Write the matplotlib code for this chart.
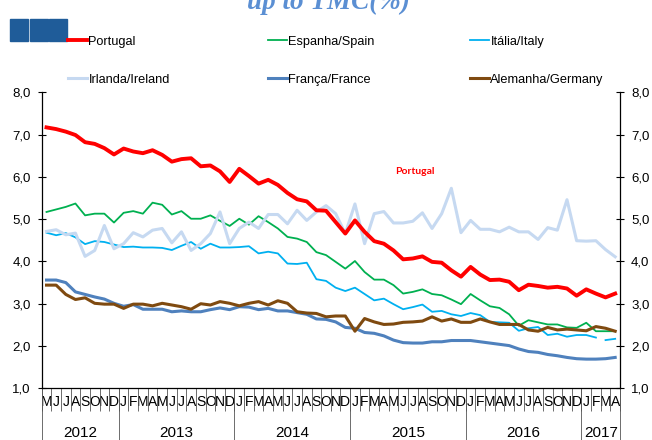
import numpy as np
import matplotlib
matplotlib.use('Agg')
import matplotlib.pyplot as plt
from matplotlib.patches import Rectangle
from matplotlib.lines import Line2D

plt.rcParams['font.family'] = ['Liberation Sans', 'DejaVu Sans']

# meses de Maio 2012 a Abril 2017
months = ['M', 'J', 'J', 'A', 'S', 'O', 'N', 'D'] + \
         ['J', 'F', 'M', 'A', 'M', 'J', 'J', 'A', 'S', 'O', 'N', 'D'] * 4 + \
         ['J', 'F', 'M', 'A']
years = ['2012', '2013', '2014', '2015', '2016', '2017']
year_len = [8, 12, 12, 12, 12, 4]

portugal = [7.17, 7.13, 7.07, 6.99, 6.82, 6.78, 6.68, 6.53, 6.67, 6.60, 6.56, 6.63, 6.52, 6.36, 6.42,
            6.44, 6.25, 6.27, 6.13, 5.88, 6.19, 6.02, 5.84, 5.93, 5.81, 5.62, 5.47, 5.42, 5.21, 5.20,
            4.93, 4.66, 4.97, 4.70, 4.48, 4.42, 4.26, 4.05, 4.07, 4.12, 3.99, 3.97, 3.79, 3.64, 3.87,
            3.69, 3.56, 3.57, 3.52, 3.32, 3.45, 3.42, 3.38, 3.40, 3.36, 3.19, 3.34, 3.24, 3.15, 3.24]
spain = [5.17, 5.23, 5.29, 5.37, 5.09, 5.13, 5.13, 4.92, 5.15, 5.19, 5.13, 5.39, 5.34, 5.11, 5.19,
         5.01, 5.01, 5.09, 4.96, 4.84, 5.01, 4.87, 5.07, 4.93, 4.78, 4.58, 4.54, 4.46, 4.22, 4.15,
         3.99, 3.83, 4.01, 3.75, 3.57, 3.57, 3.44, 3.24, 3.28, 3.34, 3.23, 3.20, 3.10, 2.99, 3.23,
         3.08, 2.94, 2.90, 2.75, 2.48, 2.61, 2.56, 2.51, 2.51, 2.44, 2.43, 2.55, 2.35, 2.35, 2.35]
italy = [4.68, 4.62, 4.67, 4.57, 4.41, 4.48, 4.46, 4.40, 4.34, 4.35, 4.33, 4.33, 4.32, 4.27, 4.37,
         4.46, 4.30, 4.42, 4.33, 4.33, 4.34, 4.36, 4.19, 4.23, 4.19, 3.95, 3.94, 3.97, 3.58, 3.54,
         3.38, 3.30, 3.38, 3.23, 3.08, 3.12, 2.99, 2.87, 2.92, 2.98, 2.81, 2.83, 2.75, 2.71, 2.78,
         2.73, 2.57, 2.56, 2.55, 2.36, 2.42, 2.45, 2.26, 2.29, 2.22, 2.26, 2.26, 2.20, 2.14, 2.17]
ireland = [4.71, 4.75, 4.63, 4.67, 4.12, 4.26, 4.85, 4.30, 4.42, 4.68, 4.58, 4.74, 4.78, 4.44, 4.70,
           4.26, 4.42, 4.66, 5.17, 4.42, 4.78, 4.93, 4.78, 5.11, 5.11, 4.89, 5.21, 4.97, 5.17, 5.32,
           5.13, 4.66, 5.36, 4.42, 5.13, 5.18, 4.91, 4.91, 4.95, 5.15, 4.78, 5.13, 5.73, 4.68, 4.97,
           4.76, 4.76, 4.70, 4.81, 4.70, 4.70, 4.52, 4.80, 4.74, 5.46, 4.49, 4.48, 4.49, 4.28, 4.11]
france = [3.56, 3.56, 3.50, 3.28, 3.22, 3.16, 3.11, 3.01, 2.94, 2.98, 2.87, 2.87, 2.87, 2.81, 2.83,
          2.81, 2.81, 2.86, 2.90, 2.86, 2.93, 2.92, 2.86, 2.89, 2.83, 2.83, 2.79, 2.75, 2.64, 2.63,
          2.57, 2.44, 2.42, 2.32, 2.30, 2.24, 2.14, 2.08, 2.07, 2.07, 2.10, 2.10, 2.13, 2.13, 2.13,
          2.10, 2.07, 2.04, 2.01, 1.93, 1.87, 1.85, 1.80, 1.77, 1.73, 1.70, 1.69, 1.69, 1.70, 1.73]
germany = [3.44, 3.44, 3.22, 3.10, 3.14, 3.01, 2.99, 2.99, 2.89, 2.99, 2.99, 2.95, 3.01, 2.97, 2.93,
           2.87, 3.00, 2.97, 3.05, 3.01, 2.95, 3.01, 3.05, 2.97, 3.07, 3.01, 2.81, 2.78, 2.77, 2.69,
           2.71, 2.71, 2.35, 2.65, 2.57, 2.51, 2.52, 2.56, 2.57, 2.59, 2.69, 2.59, 2.64, 2.56, 2.56,
           2.64, 2.57, 2.51, 2.51, 2.51, 2.38, 2.35, 2.44, 2.38, 2.40, 2.38, 2.36, 2.46, 2.42, 2.35]

c_pt = '#FF0000'
c_es = '#00B050'
c_it = '#00B0F0'
c_ie = '#C6D9F1'
c_fr = '#4F81BD'
c_de = '#7F4A10'

W, H = 652, 440
fig = plt.figure(figsize=(W / 100, H / 100), dpi=100)
ax = fig.add_axes([41.7 / W, 1 - 388.3 / H, (620 - 41.7) / W, (388.3 - 92.3) / H])

x = np.arange(len(months))
ax.plot(x, spain, color=c_es, lw=1.3)
ax.plot(x[:58], italy[:58], color=c_it, lw=1.3)
ax.plot(x[58:], italy[58:], color=c_it, lw=1.3)
ax.plot(x, ireland, color=c_ie, lw=2.2)
ax.plot(x, france, color=c_fr, lw=2.2)
ax.plot(x, germany, color=c_de, lw=2.2)
ax.plot(x, portugal, color=c_pt, lw=2.8)

ax.text(38.2, 6.12, 'Portugal', color=c_pt, fontsize=7.5, fontweight='bold',
        family=['Lato', 'DejaVu Sans'], ha='center', va='center')

ax.set_xlim(-0.5, len(months) - 0.5)
ax.set_ylim(1, 8)
yt = np.arange(1, 9)
ax.set_yticks(yt)
ax.set_yticklabels([f'{v:.1f}'.replace('.', ',') for v in yt])
ax.tick_params(axis='y', direction='inout', length=6, width=0.8, labelsize=9.5,
               right=True, labelright=True, pad=5)
ax.set_xticks(x)
ax.set_xticklabels(months, fontsize=10)
ax.tick_params(axis='x', length=0, pad=5)
for s in ['left', 'right', 'bottom']:
    ax.spines[s].set_linewidth(0.9)
ax.spines['top'].set_visible(False)

# separadores dos meses e dos anos
tr = ax.get_xaxis_transform()
ax.vlines(np.arange(len(months) + 1) - 0.5, -0.075, 0, transform=tr, colors='#555555',
          lw=0.6, clip_on=False)
bounds = np.concatenate([[0], np.cumsum(year_len)]) - 0.5
ax.vlines(bounds, -0.18, 0, transform=tr, colors='#555555', lw=0.6, clip_on=False)
for i, yr in enumerate(years):
    ax.text((bounds[i] + bounds[i + 1]) / 2, -0.152, yr, transform=tr, ha='center',
            va='center', fontsize=11)

# legenda em 3 colunas
cols = [[('Portugal', c_pt, 2.8), ('Irlanda/Ireland', c_ie, 2.2)],
        [('Espanha/Spain', c_es, 1.3), ('França/France', c_fr, 2.2)],
        [('Itália/Italy', c_it, 1.3), ('Alemanha/Germany', c_de, 2.2)]]
for cx, col in zip([68, 268, 470], cols):
    hs = [Line2D([], [], color=c, lw=lw) for _, c, lw in col]
    fig.legend(hs, [n for n, _, _ in col], loc='upper left', bbox_to_anchor=(cx / W, 1 - 35.5 / H),
               frameon=False, fontsize=9.2, handlelength=1.45, handletextpad=0.15,
               labelspacing=2.05, borderpad=0, borderaxespad=0)

# quadrados azuis e titulo cortado
for k in range(3):
    fig.patches.append(Rectangle(((10 + k * 19.7) / W, 1 - 41 / H), 18 / W, 22 / H,
                                 transform=fig.transFigure, color='#1F5C99'))
fig.text(328 / W, 1 - 9 / H, 'up to TMC(%)', ha='center', va='baseline', fontsize=19.5,
         color='#5B8FD3', fontweight='bold', fontstyle='italic', family='Liberation Serif')

fig.savefig('out.png', dpi=100)
